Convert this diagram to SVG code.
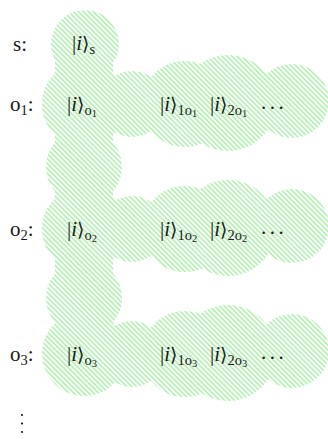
<svg xmlns="http://www.w3.org/2000/svg" width="328" height="439" viewBox="0 0 328 439">
<style>
.t{font-family:"Liberation Serif","Times New Roman",serif;font-size:21px;fill:#1a1a1a}
.it{font-style:italic}
.b{font-family:"DejaVu Serif","Liberation Serif",serif;font-size:19px}
.s{font-size:14.5px}
.ss{font-size:10.5px}
</style>
<defs>
<pattern id="hatch" patternUnits="userSpaceOnUse" width="3.5" height="3.5" patternTransform="rotate(45)">
<line x1="-1" y1="1.75" x2="4.5" y2="1.75" stroke="#55e055" stroke-width="0.75"/>
</pattern>
<clipPath id="regionclip">
<circle cx="85" cy="44" r="34"/>
<rect x="55" y="44" width="58" height="310"/>
<circle cx="84" cy="104" r="42"/>
<circle cx="132" cy="104" r="33"/>
<circle cx="185" cy="104" r="43"/>
<circle cx="228" cy="103" r="48"/>
<circle cx="292" cy="101" r="37"/>
<circle cx="84" cy="167" r="38"/>
<circle cx="84" cy="229" r="42"/>
<circle cx="132" cy="229" r="33"/>
<circle cx="185" cy="229" r="43"/>
<circle cx="228" cy="228" r="48"/>
<circle cx="292" cy="226" r="37"/>
<circle cx="84" cy="298" r="38"/>
<circle cx="84" cy="354" r="42"/>
<circle cx="132" cy="354" r="33"/>
<circle cx="185" cy="354" r="43"/>
<circle cx="228" cy="353" r="48"/>
<circle cx="292" cy="351" r="37"/>
</clipPath>
</defs>
<g id="region">
<rect x="0" y="0" width="328" height="439" fill="url(#hatch)" clip-path="url(#regionclip)"/>
</g>
<g id="label-s"><text class="t" x="13" y="51">s:</text></g>
<g id="node-s"><text class="t" x="72" y="50">|<tspan class="it">i</tspan><tspan class="b">⟩</tspan><tspan class="s" dy="4">s</tspan></text></g>
<g id="label-o1"><text class="t" x="10" y="111">o<tspan class="s" dy="4">1</tspan><tspan dy="-4">:</tspan></text></g>
<g id="node-o1"><text class="t" x="67" y="111">|<tspan class="it">i</tspan><tspan class="b">⟩</tspan><tspan class="s" dy="4">o</tspan><tspan class="ss" dy="2">1</tspan></text></g>
<g id="node-1o1"><text class="t" x="160" y="111">|<tspan class="it">i</tspan><tspan class="b">⟩</tspan><tspan class="s" dy="4">1o</tspan><tspan class="ss" dy="2">1</tspan></text></g>
<g id="node-2o1"><text class="t" x="210" y="111">|<tspan class="it">i</tspan><tspan class="b">⟩</tspan><tspan class="s" dy="4">2o</tspan><tspan class="ss" dy="2">1</tspan></text></g>
<g id="dots-o1"><text class="t" x="261" y="109" letter-spacing="3.5">...</text></g>
<g id="label-o2"><text class="t" x="10" y="236">o<tspan class="s" dy="4">2</tspan><tspan dy="-4">:</tspan></text></g>
<g id="node-o2"><text class="t" x="67" y="236">|<tspan class="it">i</tspan><tspan class="b">⟩</tspan><tspan class="s" dy="4">o</tspan><tspan class="ss" dy="2">2</tspan></text></g>
<g id="node-1o2"><text class="t" x="160" y="236">|<tspan class="it">i</tspan><tspan class="b">⟩</tspan><tspan class="s" dy="4">1o</tspan><tspan class="ss" dy="2">2</tspan></text></g>
<g id="node-2o2"><text class="t" x="210" y="236">|<tspan class="it">i</tspan><tspan class="b">⟩</tspan><tspan class="s" dy="4">2o</tspan><tspan class="ss" dy="2">2</tspan></text></g>
<g id="dots-o2"><text class="t" x="261" y="234" letter-spacing="3.5">...</text></g>
<g id="label-o3"><text class="t" x="10" y="361">o<tspan class="s" dy="4">3</tspan><tspan dy="-4">:</tspan></text></g>
<g id="node-o3"><text class="t" x="67" y="361">|<tspan class="it">i</tspan><tspan class="b">⟩</tspan><tspan class="s" dy="4">o</tspan><tspan class="ss" dy="2">3</tspan></text></g>
<g id="node-1o3"><text class="t" x="160" y="361">|<tspan class="it">i</tspan><tspan class="b">⟩</tspan><tspan class="s" dy="4">1o</tspan><tspan class="ss" dy="2">3</tspan></text></g>
<g id="node-2o3"><text class="t" x="210" y="361">|<tspan class="it">i</tspan><tspan class="b">⟩</tspan><tspan class="s" dy="4">2o</tspan><tspan class="ss" dy="2">3</tspan></text></g>
<g id="dots-o3"><text class="t" x="261" y="359" letter-spacing="3.5">...</text></g>
<g id="vdots" fill="#1a1a1a">
<circle cx="22" cy="415" r="1.1"/>
<circle cx="22" cy="423.5" r="1.1"/>
<circle cx="22" cy="432" r="1.1"/>
</g>
</svg>
